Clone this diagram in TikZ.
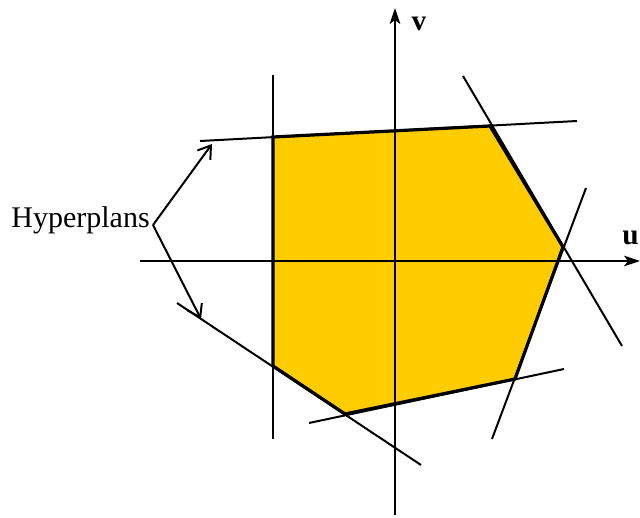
\documentclass[tikz,border=0pt]{standalone}
\usepackage{fontspec}
\setmainfont{Liberation Serif}
\usetikzlibrary{arrows.meta}
\definecolor{polyfill}{HTML}{FFCC00}
\begin{document}
\begin{tikzpicture}[x=0.75pt,y=-0.75pt,
  hyper/.style={line width=1.5pt},
  edge/.style={line width=2.4pt, line join=miter},
  axis/.style={line width=1.5pt, -{Stealth[length=12pt,width=8pt,inset=3pt]}},
  pointer/.style={line width=1.5pt, -{Straight Barb[length=9pt,width=12pt]}},
  lbl/.style={font=\fontsize{22.5}{26}\selectfont, inner sep=0pt},
  axlbl/.style={font=\fontsize{22}{26}\selectfont\bfseries, inner sep=0pt}]
\useasboundingbox (0,0) rectangle (640,518);
% polygon vertices
\coordinate (p1) at (273,137);
\coordinate (p2) at (490,126);
\coordinate (p3) at (563,247);
\coordinate (p4) at (515,379);
\coordinate (p5) at (345,414);
\coordinate (p6) at (273,366);
\fill[polyfill] (p1) -- (p2) -- (p3) -- (p4) -- (p5) -- (p6) -- cycle;
% hyperplane lines
\coordinate (a1) at (273,75);   \coordinate (a2) at (273,439);
\coordinate (b1) at (200,141);  \coordinate (b2) at (577,121);
\coordinate (c1) at (463,76);   \coordinate (c2) at (622,346);
\coordinate (d1) at (586,188);  \coordinate (d2) at (492,439);
\coordinate (e1) at (309,423);  \coordinate (e2) at (564,369);
\coordinate (f1) at (177,303);  \coordinate (f2) at (421,465);
\draw[hyper] (a1) -- (a2);
\draw[hyper] (b1) -- (b2);
\draw[hyper] (c1) -- (c2);
\draw[hyper] (d1) -- (d2);
\draw[hyper] (e1) -- (e2);
\draw[hyper] (f1) -- (f2);
% axes
\coordinate (ux0) at (140,261); \coordinate (ux1) at (640,261);
\coordinate (vy0) at (395,515); \coordinate (vy1) at (395,8);
\draw[axis] (ux0) -- (ux1);
\draw[axis] (vy0) -- (vy1);
\node[axlbl, anchor=east] (u) at (639,238) {u};
\node[axlbl] (v) at (419,24) {v};
% polygon boundary
\draw[edge] (p1) -- (p2) -- (p3) -- (p4) -- (p5) -- (p6) -- cycle;
% label and pointers
\node[lbl, anchor=east] (hyp) at (150,220) {Hyperplans};
\coordinate (h0) at (153,225);
\coordinate (t1) at (212,144);
\coordinate (t2) at (201,319);
\draw[pointer] (h0) -- (t1);
\draw[pointer] (h0) -- (t2);
\end{tikzpicture}
\end{document}
